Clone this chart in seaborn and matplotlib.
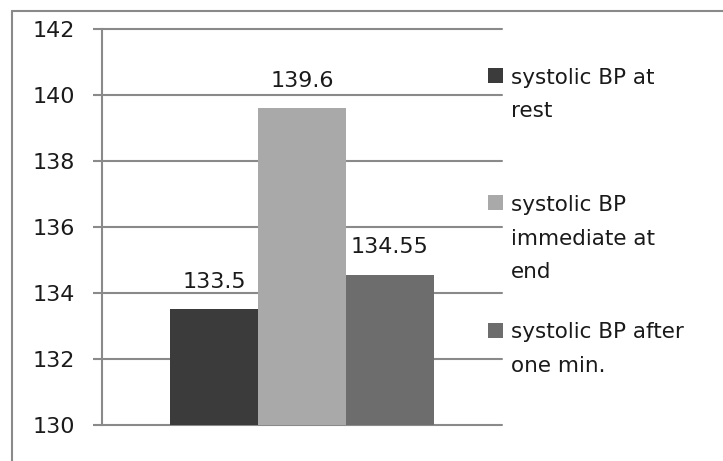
import matplotlib
matplotlib.use("Agg")
import matplotlib.pyplot as plt
from matplotlib.lines import Line2D
from matplotlib.patches import Rectangle
import seaborn as sns
import pandas as pd

# Mean systolic blood pressure (mmHg) at three measurement points
categories = ["systolic BP at rest",
              "systolic BP immediate at end",
              "systolic BP after one min."]
legend_labels = ["systolic BP at\nrest",
                 "systolic BP\nimmediate at\nend",
                 "systolic BP after\none min."]
values = [133.5, 139.6, 134.55]
y_ticks = [130, 132, 134, 136, 138, 140, 142]
colors = ["#3b3b3b", "#a9a9a9", "#6d6d6d"]

df = pd.DataFrame({"phase": categories, "bp": values})

sns.set_theme(style="white")
plt.rcParams["font.family"] = ["DejaVu Sans"]

W, H = 723, 461
fig = plt.figure(figsize=(W / 100, H / 100), dpi=100)
ax = fig.add_axes([102 / W, 1 - 425 / H, 400 / W, (425 - 29) / H])

sns.barplot(data=df, x="phase", y="bp", hue="phase", palette=colors,
            dodge=False, width=1.0, legend=False, ax=ax, saturation=1,
            linewidth=0, edgecolor="none")

ax.set_ylim(130, 142)
ax.set_xlim(-1.273, 3.273)
ax.set_yticks(y_ticks)
ax.set_yticklabels([str(t) for t in y_ticks], fontsize=16, color="#1a1a1a")
ax.set_xticks([])
ax.set_xlabel("")
ax.set_ylabel("")

grid_c = "#8a8a8a"
ax.yaxis.grid(True, color=grid_c, linewidth=1.5)
for gl in ax.get_ygridlines():
    gl.set_clip_on(False)
ax.set_axisbelow(True)
ax.tick_params(axis="y", length=6.5, width=1.5, color=grid_c, pad=13, left=True)
for side in ["top", "right", "bottom"]:
    ax.spines[side].set_visible(False)
ax.spines["left"].set_color(grid_c)
ax.spines["left"].set_linewidth(1.5)

for cont in ax.containers:
    ax.bar_label(cont, fmt="{:g}", padding=12.5, fontsize=16, color="#1a1a1a")

# Legend: one square swatch and a wrapped label per series
sq = 15
entry_y = [75.5, 203, 330]
for lab, col, yc in zip(legend_labels, colors, entry_y):
    fig.add_artist(Rectangle((488 / W, 1 - (yc + sq / 2) / H), sq / W, sq / H,
                             transform=fig.transFigure, facecolor=col,
                             edgecolor="none"))
    fig.text(511 / W, 1 - (yc - 8) / H, lab, fontsize=15.5, color="#1a1a1a",
             va="top", ha="left", linespacing=1.85)

# Chart frame
fig.add_artist(Line2D([12 / W, 12 / W], [0, 1 - 11 / H], color=grid_c,
                      linewidth=1.5, transform=fig.transFigure))
fig.add_artist(Line2D([12 / W, 1], [1 - 11 / H, 1 - 11 / H], color=grid_c,
                      linewidth=1.5, transform=fig.transFigure))

fig.savefig("out.png", dpi=100, facecolor="white")
